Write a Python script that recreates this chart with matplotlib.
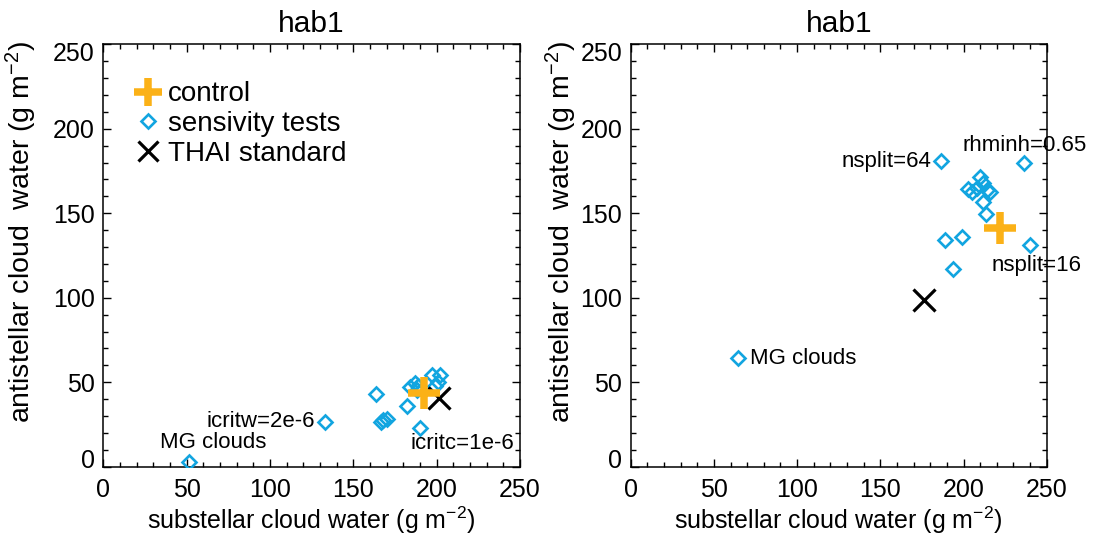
import matplotlib
matplotlib.use("Agg")
import matplotlib.pyplot as plt
import matplotlib.transforms as mtransforms
from matplotlib.lines import Line2D

plt.rcParams['font.family'] = ['Liberation Sans', 'DejaVu Sans']
plt.rcParams['mathtext.fontset'] = 'custom'
plt.rcParams['mathtext.rm'] = 'Liberation Sans'
plt.rcParams['mathtext.it'] = 'Liberation Sans:italic'

# sensitivity tests, left panel
left_x = [51.4, 133, 190, 163.6, 166.4, 168, 170, 182.4, 184, 187, 188, 189, 197, 202, 201, 199]
left_y = [3.0, 26.4, 22.7, 42.8, 26.6, 27.6, 28.0, 36.1, 47.3, 49.3, 45.4, 48, 54.3, 54.3, 50.3, 48]
left_ctrl = (192.4, 43.4)
left_thai = (201.6, 40.5)

# sensitivity tests, right panel
right_x = [64.6, 186.3, 236.4, 240, 209.9, 211.5, 202.9, 204.9, 207.9, 214.3, 215.9, 211.5, 213.5, 188.9, 198.9, 193.9]
right_y = [64.2, 181.1, 179.9, 131.2, 171.6, 167.7, 164.1, 162.7, 164.7, 163.7, 162.7, 156.8, 149.5, 134.1, 135.7, 116.8]
right_ctrl = (221.9, 141.1)
right_thai = (176.3, 98.6)

# annotations: text, x, y, ha
left_notes = [("icritw=2e-6", 127, 26.6, 'right'),
              ("MG clouds", 66, 14.2, 'center'),
              ("icritc=1e-6", 184.5, 13.8, 'left')]
right_notes = [("nsplit=64", 180.5, 180.5, 'right'),
               ("rhminh=0.65", 199.1, 190.4, 'left'),
               ("nsplit=16", 216.9, 118.8, 'left'),
               ("MG clouds", 71.7, 64.3, 'left')]

BLUE = '#12a5e0'
GOLD = '#fbb117'

fig = plt.figure(figsize=(10.94, 5.38), dpi=100)
ax1 = fig.add_axes([103.3 / 1094, 71.3 / 538, 416.7 / 1094, 422.4 / 538])
ax2 = fig.add_axes([630.7 / 1094, 71.3 / 538, 416.0 / 1094, 422.4 / 538])

panels = [(ax1, left_x, left_y, left_ctrl, left_thai, left_notes, 10),
          (ax2, right_x, right_y, right_ctrl, right_thai, right_notes, 1)]

for ax, xs, ys, ctrl, thai, notes, ypad in panels:
    ax.plot(xs, ys, linestyle='none', marker='D', ms=7, mfc='none',
            mec=BLUE, mew=1.9, zorder=3)
    ax.plot(thai[0], thai[1], linestyle='none', marker='x', ms=16,
            mec='black', mew=2.3, zorder=4)
    ax.plot(ctrl[0], ctrl[1], linestyle='none', marker='+', ms=22.5,
            mec=GOLD, mew=5.4, zorder=5)
    for txt, tx, ty, ha in notes:
        ax.text(tx, ty, txt, ha=ha, va='center', fontsize=16, clip_on=False, zorder=6)

    ax.set_xlim(0, 250)
    ax.set_ylim(0, 250)
    ax.set_xticks(range(0, 251, 50))
    ax.set_yticks(range(0, 251, 50))
    ax.set_xticks(range(0, 251, 10), minor=True)
    ax.set_yticks(range(0, 251, 10), minor=True)
    ax.tick_params(which='both', direction='in', top=True, right=True, width=1)
    ax.tick_params(which='major', length=6, labelsize=18)
    ax.tick_params(which='minor', length=3.3)
    ax.tick_params(axis='x', pad=8)
    ax.tick_params(axis='y', pad=6)
    for s in ax.spines.values():
        s.set_linewidth(1.1)
    ax.set_title('hab1', fontsize=21.5, pad=9)
    ax.set_xlabel(r'substellar cloud water (g m$^{-2}$)', fontsize=18, labelpad=2)
    ax.set_ylabel(r'antistellar cloud  water (g m$^{-2}$)', fontsize=20.5, labelpad=ypad)
    ax.yaxis.label.set_y(0.555)

    # end labels of the y axis sit inside the frame, as in the original
    ylabels = ax.get_yticklabels()
    ylabels[0].set_transform(ylabels[0].get_transform() +
                             mtransforms.ScaledTranslation(0, 8 / 100, fig.dpi_scale_trans))
    ylabels[-1].set_transform(ylabels[-1].get_transform() +
                              mtransforms.ScaledTranslation(0, -7 / 100, fig.dpi_scale_trans))

handles = [Line2D([], [], linestyle='none', marker='+', ms=20, mec=GOLD, mew=5.4),
           Line2D([], [], linestyle='none', marker='D', ms=7, mfc='none', mec=BLUE, mew=1.9),
           Line2D([], [], linestyle='none', marker='x', ms=14, mec='black', mew=2.3)]
ax1.legend(handles, ['control', 'sensivity tests', 'THAI standard'],
           loc='upper left', bbox_to_anchor=(0.075, 0.912), frameon=False,
           fontsize=20, handlelength=1.0, handletextpad=0.2,
           labelspacing=0.13, borderpad=0, borderaxespad=0)

fig.savefig('out.png', dpi=100)
